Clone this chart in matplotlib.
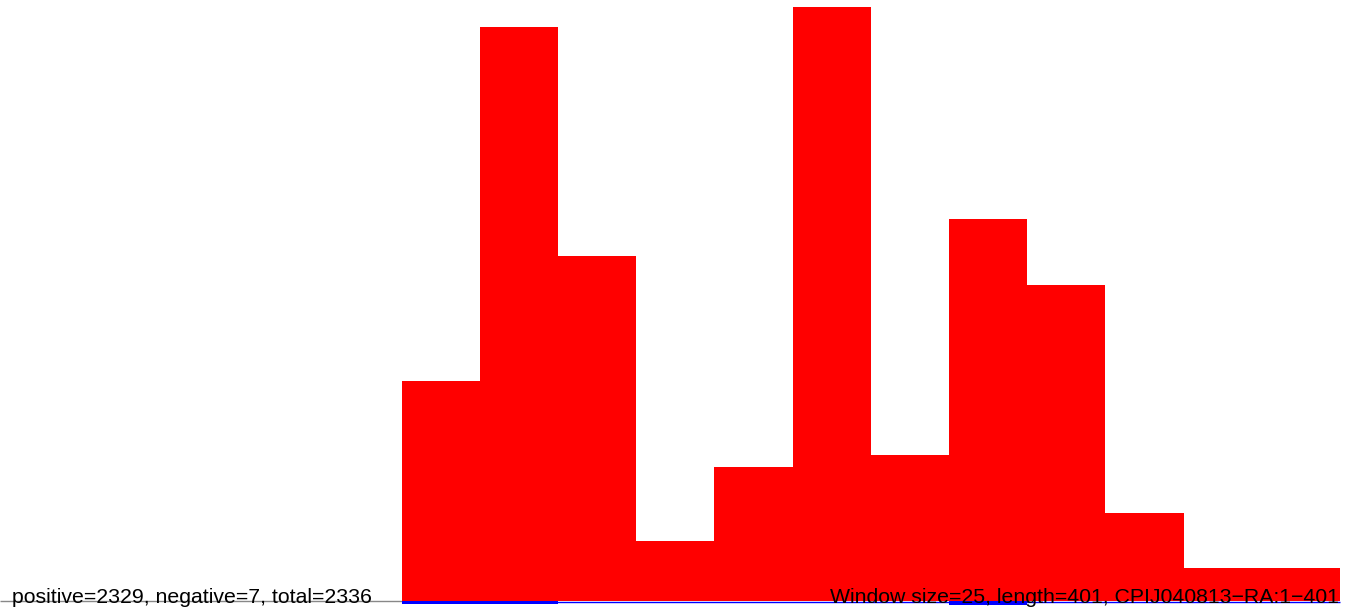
import numpy as np
import matplotlib
matplotlib.use("Agg")
import matplotlib.pyplot as plt

plt.rcParams['font.family'] = ['Liberation Sans', 'DejaVu Sans']

# window starts along the sequence (window size 25, length 401)
window_size = 25
seq_length = 401
starts = np.arange(1, seq_length, window_size)
positive = [0, 0, 0, 0, 175, 457, 275, 48, 107, 473, 116, 304, 252, 70, 26, 26]
negative = [0, 0, 0, 0, 2, 2, 0, 0, 0, 0, 0, 3, 0, 0, 0, 0]
label_left = "positive=2329, negative=7, total=2336"
label_right = "Window size=25, length=401, CPIJ040813\u2212RA:1\u2212401"

fig = plt.figure(figsize=(13.52, 6.11), dpi=100)
ax = fig.add_axes([0, 0, 1, 1])

has = np.array(positive) > 0
first = starts[has][0]
ax.set_xlim(-27.4, 404.8)
ax.set_ylim(-7.96, 478.6)

ax.hlines(0, -27.4, first, color='#888888', lw=1, zorder=1)
ax.hlines(-0.4, first, seq_length, color='blue', lw=1, zorder=3)
ax.bar(starts, positive, width=window_size, align='edge', color='red', lw=0, zorder=2)
ax.bar(starts[has], -np.array(negative)[has], width=window_size, align='edge',
       color='blue', lw=0, zorder=3)
ax.axis('off')

fig.text(12 / 1352, 8 / 611, label_left, fontsize=15.3, ha='left', va='baseline', zorder=5)
fig.text(1339 / 1352, 8 / 611, label_right, fontsize=15.3, ha='right', va='baseline', zorder=5)

fig.savefig("out.png", dpi=100)
